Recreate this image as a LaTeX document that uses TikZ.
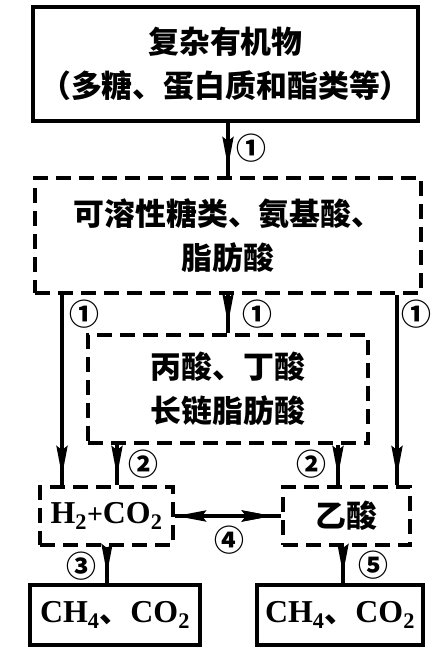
\documentclass[tikz,border=0pt]{standalone}
\usepackage{fontspec}
\newfontfamily\cjk{Noto Sans CJK SC}
\newfontfamily\lat{Liberation Serif}
\usetikzlibrary{arrows.meta,decorations.markings}

\newcommand{\chem}[2]{{\lat\bfseries\fontsize{32}{40}\selectfont #1\textsubscript{#2}}}

\begin{document}
\begin{tikzpicture}[x=1bp,y=-1bp,
  >={Stealth[length=30bp,width=11bp,inset=4bp]},
  box/.style={draw,line width=4bp,inner sep=0pt,align=center,
    font={\cjk\bfseries\fontsize{31}{44}\selectfont}},
  dbox/.style={box,dash pattern=on 15bp off 8bp},
  flow/.style={line width=3.5bp,postaction={decorate},
    decoration={markings,mark=at position -9bp with {\arrow{>}}}},
  num/.style={inner sep=0pt,font={\cjk\bfseries\fontsize{30}{30}\selectfont}}]
\useasboundingbox (0,0) rectangle (437,651);

% boxes
\node[box,minimum width=385bp,minimum height=113bp] (src) at (225.5,64)
  {复杂有机物\\（多糖、蛋白质和酯类等）};
\node[dbox,minimum width=386bp,minimum height=115bp] (sol) at (228,235.5)
  {可溶性糖类、氨基酸、\\脂肪酸};
\node[dbox,minimum width=280bp,minimum height=108bp] (mid) at (228,389)
  {丙酸、丁酸\\长链脂肪酸};
\node[dbox,minimum width=133bp,minimum height=58bp] (h2) at (106.5,516)
  {\chem{H}{2}{\lat\fontsize{28}{40}\selectfont +}\chem{CO}{2}};
\node[dbox,minimum width=127bp,minimum height=58bp] (ac) at (346.5,516)
  {乙酸};
\node[box,minimum width=170bp,minimum height=60bp] (lft) at (115,615)
  {\chem{CH}{4}、\chem{CO}{2}};
\node[box,minimum width=166bp,minimum height=60bp] (rgt) at (340,615)
  {\chem{CH}{4}、\chem{CO}{2}};

% arrows
\draw[flow] (src.south -| sol.north) -- (sol.north);
\draw[flow] (sol.south -| 62,0) -- (h2.north -| 62,0);
\draw[flow] (sol.south -| mid.north) -- (mid.north);
\draw[flow] (sol.south -| 397,0) -- (ac.north -| 397,0);
\draw[flow] (mid.south -| 117,0) -- (h2.north -| 117,0);
\draw[flow] (mid.south -| 338,0) -- (ac.north -| 338,0);
\draw[flow] (h2.south -| 107,0) -- (lft.north -| 107,0);
\draw[flow] (ac.south -| 343,0) -- (rgt.north -| 343,0);
\draw[flow,postaction={decorate,decoration={markings,
  mark=at position 1bp with {\arrowreversed{>}}}}] (h2.east) -- (ac.west);

% step numbers
\node[num] (n1) at (251,148) {①};
\node[num] (n1l) at (84,314) {①};
\node[num] (n1m) at (257,314) {①};
\node[num] (n1r) at (416,314) {①};
\node[num] (n2l) at (143,464) {②};
\node[num] (n2r) at (311,464) {②};
\node[num] (n3) at (81,566) {③};
\node[num] (n4) at (229,540) {④};
\node[num] (n5) at (373,565) {⑤};
\end{tikzpicture}
\end{document}
